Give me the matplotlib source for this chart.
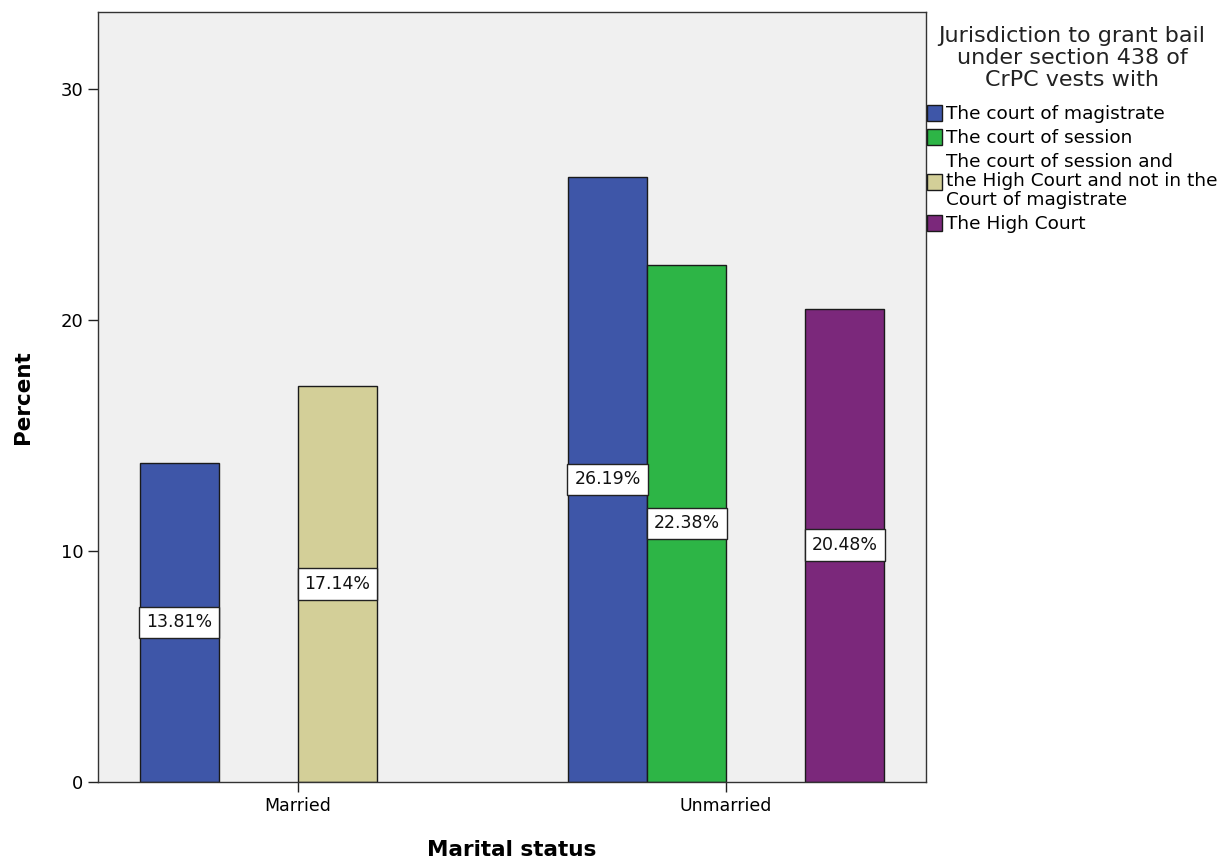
import numpy as np
import matplotlib
matplotlib.use("Agg")
import matplotlib.pyplot as plt
from matplotlib.patches import Patch

# Data: percent of respondents by marital status and answer
categories = ["Married", "Unmarried"]
series_names = [
    "The court of magistrate",
    "The court of session",
    "The court of session and\nthe High Court and not in the\nCourt of magistrate",
    "The High Court",
]
# 0 means no respondents in that cell (no bar drawn)
magistrate = [13.81, 26.19]
session = [0.0, 22.38]
session_and_hc = [17.14, 0.0]
high_court = [0.0, 20.48]
y_ticks = [0, 10, 20, 30]

colors = ["#3e56a8", "#2db546", "#d3cf98", "#7b287b"]
series = [magistrate, session, session_and_hc, high_court]

plt.rcParams["font.family"] = ["DejaVu Sans"]

fig = plt.figure(figsize=(12.32, 8.61), dpi=100)
ax = fig.add_axes([98 / 1232, 1 - 782 / 861, (926 - 98) / 1232, (782 - 12) / 861])
ax.set_facecolor("#f0f0f0")

x = np.arange(len(categories))
width = 0.1846
offsets = (np.arange(4) - 1.5) * width

for vals, off, col in zip(series, offsets, colors):
    for xi, v in zip(x, vals):
        if v <= 0:
            continue
        ax.bar(xi + off, v, width=width, color=col, edgecolor="#1a1a1a",
               linewidth=1.0, zorder=2)
        ax.text(xi + off, v / 2, f"{v:.2f}%", ha="center", va="center",
                fontsize=12.5, color="#111111", zorder=3,
                bbox=dict(boxstyle="square,pad=0.4", facecolor="white",
                          edgecolor="#222222", linewidth=1.0))

ax.set_xlim(-0.467, 1.467)
ax.set_ylim(0, 33.33)
ax.set_xticks(x)
ax.set_xticklabels(categories, fontsize=12.5)
ax.set_yticks(y_ticks)
ax.set_yticklabels([str(t) for t in y_ticks], fontsize=13)
ax.tick_params(axis="both", direction="out", length=7, width=1.0, color="#222222")
for s in ax.spines.values():
    s.set_color("#333333")
    s.set_linewidth(1.0)

ax.set_xlabel("Marital status", fontsize=15.5, fontweight="bold", labelpad=18)
ax.set_ylabel("Percent", fontsize=15.5, fontweight="bold", labelpad=20)

handles = [Patch(facecolor=c, edgecolor="#1a1a1a", linewidth=1.0) for c in colors]
leg = fig.legend(handles, series_names,
                 title="Jurisdiction to grant bail\nunder section 438 of\nCrPC vests with",
                 loc="upper left", bbox_to_anchor=(923 / 1232, 1 - 22 / 861),
                 frameon=False, fontsize=13.3, title_fontsize=16,
                 handlelength=0.85, handleheight=0.95, handletextpad=0.2,
                 labelspacing=0.32, borderaxespad=0, borderpad=0.2,
                 alignment="center")
leg.get_title().set_multialignment("center")
leg.get_title().set_linespacing(1.12)
leg.get_title().set_color("#222222")
for t in leg.get_texts():
    t.set_linespacing(1.06)
leg._legend_box.sep = 11

fig.savefig("out.png", dpi=100, facecolor="white")
